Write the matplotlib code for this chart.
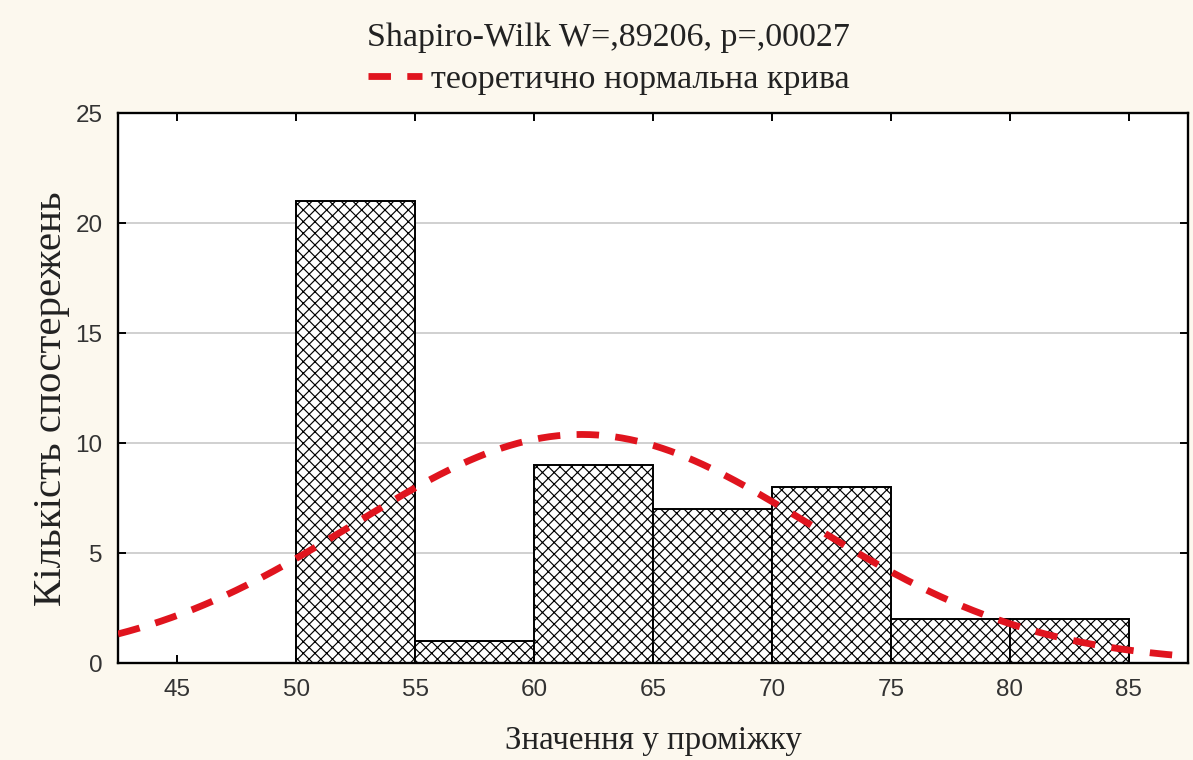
import numpy as np
import matplotlib.pyplot as plt

# Data ----------------------------------------------------

bin_edges = [50, 55, 60, 65, 70, 75, 80, 85]
counts = [21, 1, 9, 7, 8, 2, 2]
fit_mean = 62.0      # parameters of the theoretical normal curve
fit_sd = 9.6
n_obs = 50
x_ticks = [45, 50, 55, 60, 65, 70, 75, 80, 85]
y_ticks = [0, 5, 10, 15, 20, 25]

title = 'Shapiro-Wilk W=,89206, p=,00027'
legend_label = 'теоретично нормальна крива'
x_label = 'Значення у проміжку'
y_label = 'Кількість спостережень'

# Plot ----------------------------------------------------

plt.rcParams['hatch.linewidth'] = 0.6
serif = ['Liberation Serif', 'DejaVu Serif']
sans = ['Liberation Sans', 'DejaVu Sans']

fig = plt.figure(figsize=(1193 / 140, 760 / 140), dpi=140, facecolor='#fcf8ee')
ax = fig.add_axes([0.0989, 0.1276, 0.8969, 0.7237])
ax.set_facecolor('white')

widths = np.diff(bin_edges)
ax.bar(bin_edges[:-1], counts, width=widths, align='edge', color='white',
       edgecolor='black', linewidth=1.0, hatch='xxxx', zorder=2)

bin_w = widths[0]
xs = np.linspace(42.5, 87.5, 400)
ys = n_obs * bin_w / (fit_sd * np.sqrt(2 * np.pi)) * np.exp(-0.5 * ((xs - fit_mean) / fit_sd) ** 2)
ax.plot(xs, ys, color='#e0141e', lw=3.5, dashes=(3.3, 2.4), zorder=3, label=legend_label)

ax.set_xlim(42.5, 87.5)
ax.set_ylim(0, 25)
ax.set_xticks(x_ticks)
ax.set_yticks(y_ticks)
ax.yaxis.grid(True, color='#d0d0d0', lw=1)
ax.set_axisbelow(True)
ax.tick_params(direction='in', length=4, width=1, top=True, right=True,
               labelsize=12.5, pad=8, colors='black')
for lbl in ax.get_xticklabels() + ax.get_yticklabels():
    lbl.set_family(sans)
    lbl.set_color('#333333')
for s in ax.spines.values():
    s.set_linewidth(1.2)

ax.set_xlabel(x_label, family=serif, fontsize=17, labelpad=13, color='#222222')
ax.set_ylabel(y_label, family=serif, fontsize=21, labelpad=3, color='#222222')
ax.yaxis.set_label_coords(-0.045, 0.48)
fig.text(0.51, 0.95, title, family=serif, fontsize=17.5, ha='center', va='center',
         color='#222222')
leg = fig.legend(loc='center', bbox_to_anchor=(0.51, 0.895), frameon=False,
                 prop={'family': serif, 'size': 17.5}, handlelength=1.6,
                 handletextpad=0.25, borderpad=0, borderaxespad=0)
for t in leg.get_texts():
    t.set_color('#222222')

fig.savefig('out.png', dpi=140, facecolor=fig.get_facecolor())
